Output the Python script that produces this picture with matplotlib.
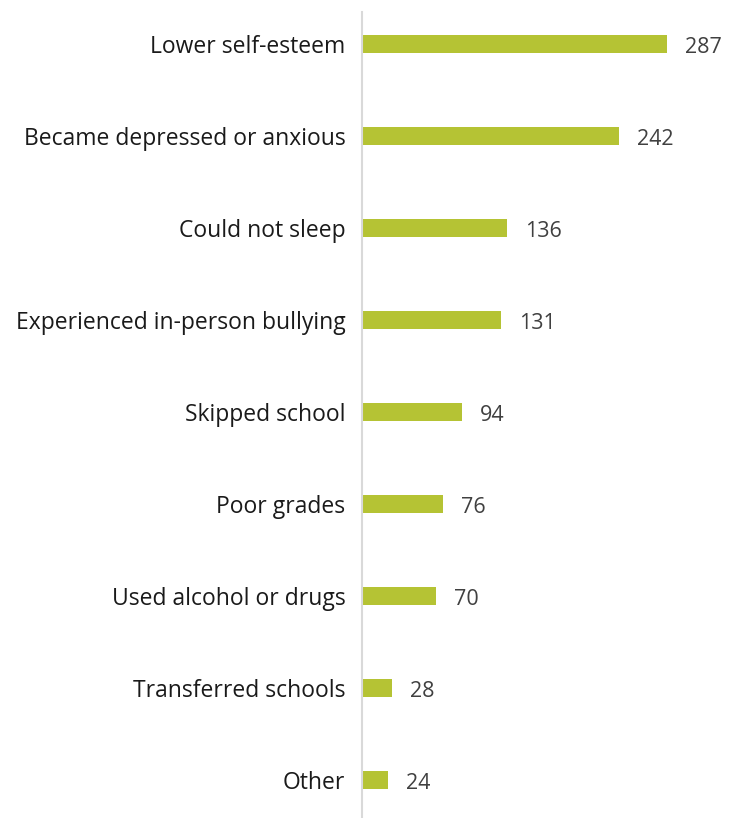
import matplotlib
matplotlib.use("Agg")
import matplotlib.pyplot as plt

categories = ["Lower self-esteem", "Became depressed or anxious", "Could not sleep",
              "Experienced in-person bullying", "Skipped school", "Poor grades",
              "Used alcohol or drugs", "Transferred schools", "Other"]
counts = [287, 242, 136, 131, 94, 76, 70, 28, 24]

W, H = 737, 818
fig = plt.figure(figsize=(W / 100, H / 100), dpi=100)

# axes start at the vertical baseline and run to the right edge
left = 362 / W
ax = fig.add_axes([left, 0, 1 - left, (H - 12) / H])

y = list(range(len(categories)))
ax.barh(y, counts, height=0.2, color="#B5C334")

ax.set_xlim(0, (W - 362) / 1.063)
ax.set_ylim(len(categories) - 1 + 0.413, -0.348)

for yi, v in zip(y, counts):
    ax.annotate(str(v), (v, yi), xytext=(18, -3), textcoords="offset pixels",
                ha="left", va="center", fontsize=15.5, color="#404040", family="Open Sans")

ax.set_yticks(y)
ax.set_yticklabels(categories, fontsize=16.5, color="#1a1a1a", family="Open Sans")
ax.tick_params(axis="y", length=0, pad=12)
ax.set_xticks([])

for side in ["top", "right", "bottom"]:
    ax.spines[side].set_visible(False)
ax.spines["left"].set_color("#d9d9d9")
ax.spines["left"].set_linewidth(1.5)

fig.savefig("out.png", dpi=100)
